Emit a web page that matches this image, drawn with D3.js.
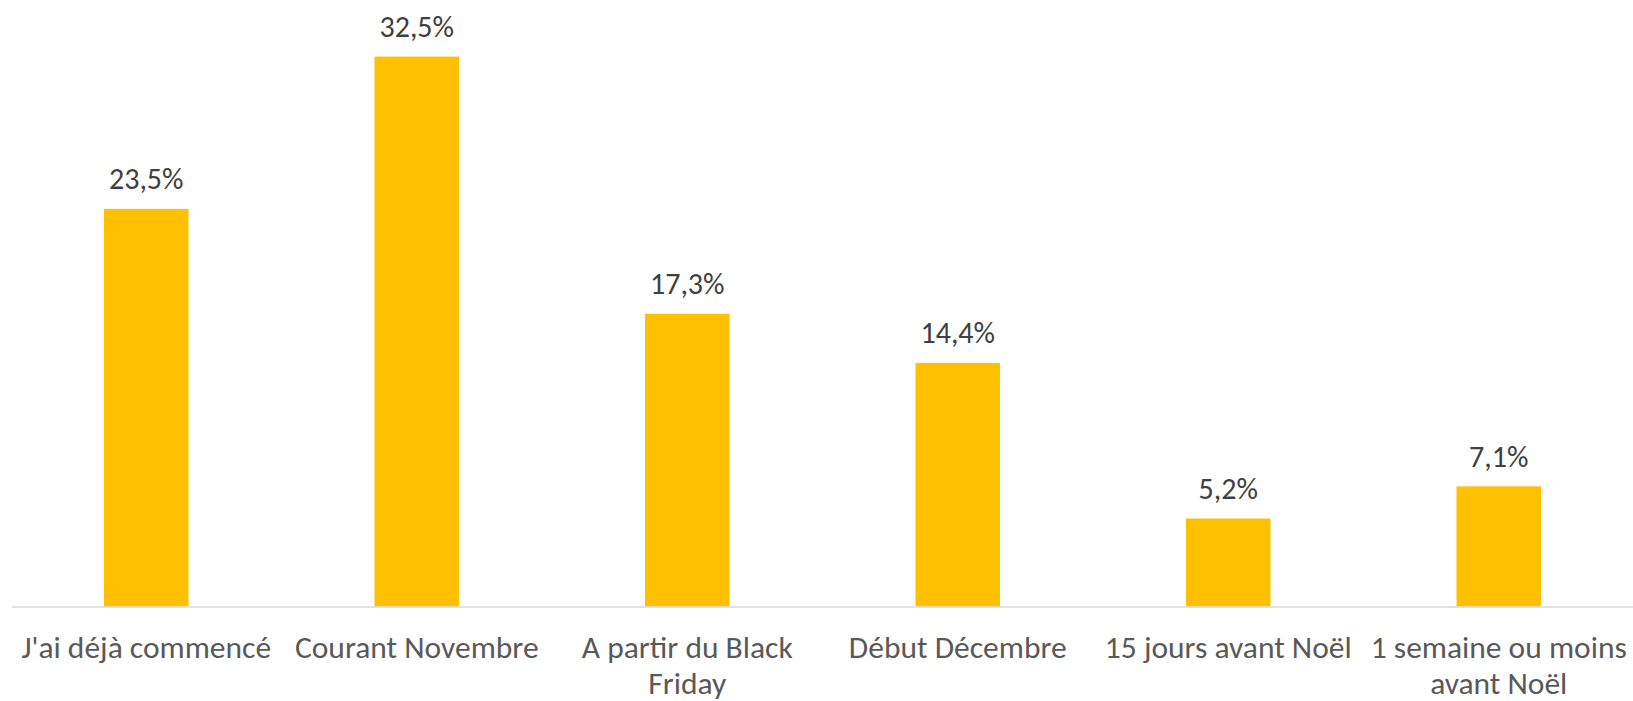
<!DOCTYPE html>
<html>
<head>
<meta charset="utf-8">
<script src="https://cdn.jsdelivr.net/npm/d3@7"></script>
<style>
  html, body { margin: 0; padding: 0; background: #ffffff; }
  svg { display: block; }
</style>
</head>
<body>
<svg id="chart" width="1633" height="701"></svg>
<script>
const categories = ["J'ai déjà commencé", "Courant Novembre", "A partir du Black Friday", "Début Décembre", "15 jours avant Noël", "1 semaine ou moins avant Noël"];
const tickLines = [["J'ai déjà commencé"], ["Courant Novembre"], ["A partir du Black", "Friday"], ["Début Décembre"], ["15 jours avant Noël"], ["1 semaine ou moins", "avant Noël"]];
const values = [23.5, 32.5, 17.3, 14.4, 5.2, 7.1];
const valueLabels = ["23,5%", "32,5%", "17,3%", "14,4%", "5,2%", "7,1%"];

const svg = d3.select("#chart");
const fontFamily = "Carlito, Calibri, Lato, sans-serif";

const x = d3.scaleBand()
  .domain(categories)
  .range([11, 1634])
  .paddingInner(0.6876)
  .paddingOuter(0.3438);

const y = d3.scaleLinear()
  .domain([0, 35])
  .range([606.5, 14.3]);

// bars
svg.append("g").selectAll("rect")
  .data(values)
  .join("rect")
  .attr("x", (d, i) => x(categories[i]))
  .attr("y", d => y(d))
  .attr("width", x.bandwidth())
  .attr("height", d => y(0) - y(d))
  .attr("fill", "#FFC000");

// axis
const axis = d3.axisBottom(x).tickSize(0).tickFormat("");
const gx = svg.append("g")
  .attr("transform", `translate(0,${y(0)})`)
  .call(axis);
gx.select(".domain").attr("stroke", "#d9d9d9").attr("stroke-width", 1.5);

// category labels
gx.selectAll(".tick").each(function(d, i) {
  const t = d3.select(this).append("text")
    .attr("fill", "#595959")
    .attr("font-family", fontFamily)
    .attr("font-size", 31.5)
    .attr("text-anchor", "middle")
    .attr("y", 51.3);
  tickLines[i].forEach((line, j) => {
    t.append("tspan").attr("x", 0).attr("dy", j === 0 ? 0 : 36.2).text(line);
  });
});

// value labels
svg.append("g").selectAll("text")
  .data(values)
  .join("text")
  .attr("x", (d, i) => x(categories[i]) + x.bandwidth() / 2)
  .attr("y", d => y(d) - 19.5)
  .attr("text-anchor", "middle")
  .attr("fill", "#404040")
  .attr("font-family", fontFamily)
  .attr("font-size", 30)
  .text((d, i) => valueLabels[i]);
</script>
</body>
</html>
